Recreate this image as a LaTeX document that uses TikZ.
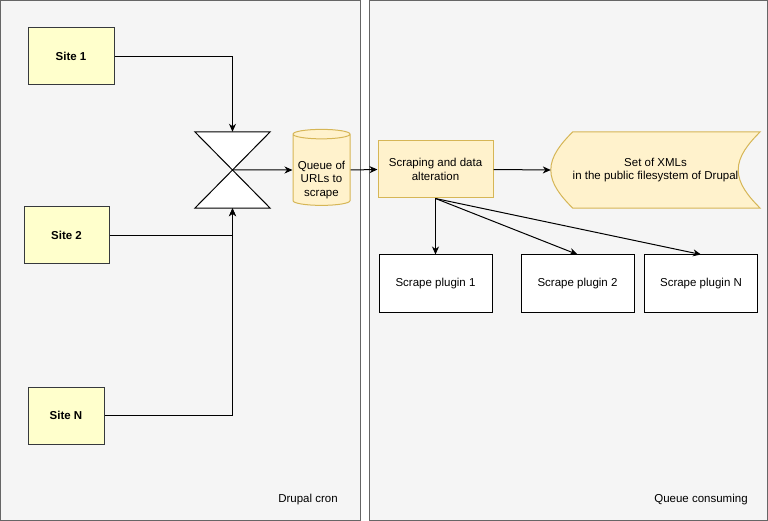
\documentclass[tikz,border=0pt]{standalone}
\usepackage{fontspec}
\setmainfont{Liberation Sans}
\usepackage{tikz}
\usetikzlibrary{calc,shapes.geometric,arrows.meta}
\usepackage{xcolor}
\definecolor{cronpanel}{RGB}{245,245,245}
\definecolor{cronframe}{RGB}{102,102,102}
\definecolor{siteyellow}{RGB}{255,255,204}
\definecolor{siteframe}{RGB}{54,57,61}
\definecolor{queueyellow}{RGB}{255,242,204}
\definecolor{queueframe}{RGB}{214,182,86}

\begin{document}
\begin{tikzpicture}[x=1pt, y=-1pt, font=\fontsize{11.5}{13.5}\selectfont]
  \tikzstyle{myline}=[line width=1pt, line join=miter];
  \tikzstyle{mypanel}=[myline, draw=cronframe, fill=cronpanel];
  \tikzstyle{mysite}=[myline, draw=siteframe, fill=siteyellow,
    font=\fontsize{11.5}{13.5}\selectfont\bfseries, minimum height=57];
  \tikzstyle{mystep}=[myline, draw=queueframe, fill=queueyellow, align=center];
  \tikzstyle{myplugin}=[myline, draw=black, fill=white, minimum width=113,
    minimum height=57];
  \tikzstyle{myconn}=[myline, ->, >={Stealth[length=8pt, width=7pt, inset=2.5pt]}];
  %
  \useasboundingbox (0,0) rectangle (768,521);
  %
  % panels
  \draw[mypanel] (0.5,0.5) rectangle (360,520);
  \draw[mypanel] (369.5,0.5) rectangle (767,520);
  \node (cron) at (308,500) {Drupal cron};
  \node (consume) at (701,500) {Queue consuming};
  %
  % sites
  \node[mysite, minimum width=86] (site1) at (71,56.5) {Site 1};
  \node[mysite, minimum width=85] (site2) at (66.5,235.5) {Site 2};
  \node[mysite, minimum width=76] (siten) at (66,415.5) {Site N};
  %
  % collate
  \node[inner sep=0, minimum width=75, minimum height=76] (collate)
    at (232.5,170) {};
  \draw[myline, fill=white] (collate.north west) -- (collate.north east)
  -- (collate.south west) -- (collate.south east) -- cycle;
  %
  % queue
  \node[mystep, cylinder, shape border rotate=90, aspect=0.2,
    minimum width=57, minimum height=76, inner sep=0] (queue)
    at (321.5,170) {\phantom{Queue of}};
  \node[align=center, inner sep=0] (queuetext) at ($(queue.center) + (0,10)$)
    {Queue of\\URLs to\\scrape};
  %
  \node[mystep, minimum width=115, minimum height=57] (scrape)
    at (435.5,169.5) {Scraping and data\\alteration};
  %
  % stored XMLs
  \node[minimum width=209, minimum height=76, align=center] (xmls)
    at (655.5,170) {};
  \filldraw[myline, draw=queueframe, fill=queueyellow]
  ($(xmls.north west) + (22,0)$) -- (xmls.north east)
  .. controls +(-12,12) and +(0,-14) .. ($(xmls.east) - (22,0)$)
  .. controls +(0,14) and +(-12,-12) .. (xmls.south east)
  -- ($(xmls.south west) + (22,0)$)
  .. controls +(-12,-12) and +(0,14) .. (xmls.west)
  .. controls +(0,-14) and +(-12,12) .. ($(xmls.north west) + (22,0)$)
  -- cycle;
  \node[align=center] (xmlstext) at (xmls.center)
    {Set of XMLs\\in the public filesystem of Drupal};
  %
  % plugins
  \node[myplugin] (plugin1) at (435.5,283.5) {Scrape plugin 1};
  \node[myplugin] (plugin2) at (577.5,283.5) {Scrape plugin 2};
  \node[myplugin] (pluginn) at (701,283.5) {Scrape plugin N};
  %
  % connections
  \draw[myconn] (site1.east) -| (collate.north);
  \draw[myconn] (site2.east) -| (collate.south);
  \draw[myconn] (siten.east) -| (collate.south);
  \draw[myconn] (collate.center) -- (queue.west);
  \draw[myconn] (queue.east) -- (scrape.west);
  \draw[myconn] (scrape.east) -- (xmls.west);
  \draw[myconn] (scrape.south) -- (plugin1.north);
  \draw[myconn] (scrape.south) -- (plugin2.north);
  \draw[myconn] (scrape.south) -- (pluginn.north);
\end{tikzpicture}
\end{document}
